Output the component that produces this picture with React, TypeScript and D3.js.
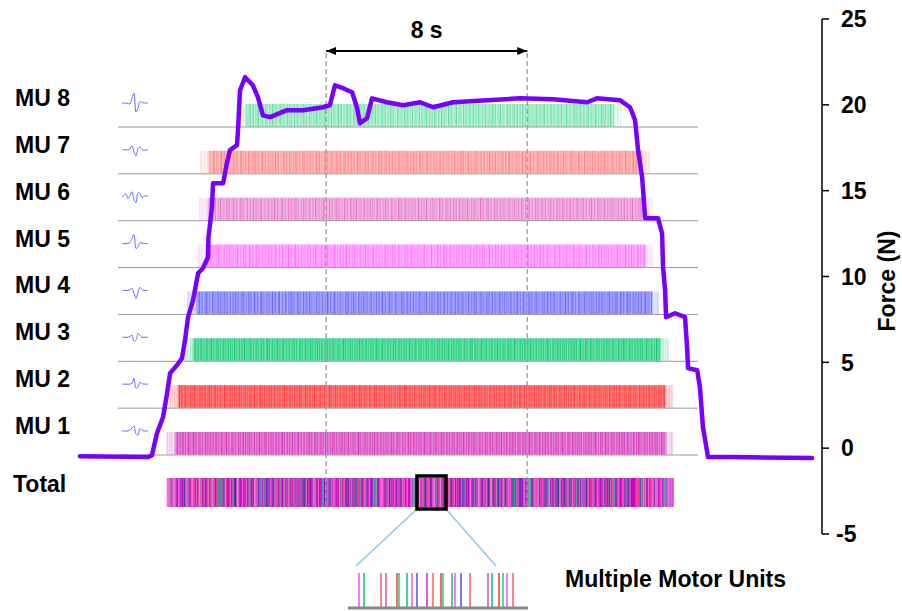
import * as d3 from 'd3'

// motor unit rows, top to bottom
const MU_LABELS = ['MU 8', 'MU 7', 'MU 6', 'MU 5', 'MU 4', 'MU 3', 'MU 2', 'MU 1']
const MU_COLORS = ['#1ccf78', '#ff5c5c', '#e04cbc', '#ff4cff', '#4c4cff', '#00c868', '#ff3434', '#d024b4']
const MU_ALPHA = [0.6, 0.7, 0.7, 0.75, 0.8, 0.9, 0.95, 0.85]
const MU_TINT = [0.22, 0.3, 0.3, 0.3, 0.35, 0.4, 0.45, 0.4]
// recruitment / derecruitment (s) and mean discharge rate (pps)
const MU_ONSET = [6.22, 4.79, 4.75, 4.71, 4.28, 4.16, 3.57, 3.45]
const MU_OFFSET = [21.47, 22.58, 22.66, 22.7, 22.98, 23.3, 23.49, 23.53]
const MU_RATE = [15, 16, 16, 17, 18, 20, 22, 20]
// relative inter-spike intervals and spike intensities (cycled)
const ISI_JITTER = [1.0, 0.82, 1.15, 0.94, 1.27, 0.76, 1.05, 0.9, 1.2, 0.85, 1.1, 0.97, 0.8, 1.22, 1.03, 0.88, 1.14, 0.92, 1.3, 0.79]
const SPIKE_ALPHA = [0.9, 0.45, 0.7, 0.35, 0.85, 0.55, 0.65, 0.4, 0.95, 0.5, 0.75, 0.4, 0.6]
// colours seen in the pooled (Total) train
const TOTAL_COLORS = ['#e020b8', '#ff60d8', '#9a20e0', '#ff3399', '#30b890', '#3c3c9c', '#d050d0', '#ff80e0', '#7a6a8a', '#c000c0']

// MUAP templates (normalised amplitude)
const MUAP = [
  [0, 0, 0, -0.05, -0.1, 0.5, 1.0, -0.9, -0.5, 0.15, 0.05, 0, 0, 0],
  [0, 0, 0, 0, 0.1, 0.4, -0.2, -0.6, 0.1, 0.3, 0.05, -0.05, 0, 0],
  [0, 0.1, 0.3, -0.2, 0.1, 0.5, -0.3, -0.6, 0.4, 0.3, -0.1, 0.05, 0.1, 0.05],
  [0, 0, 0, 0, 0.1, 0.5, 0.9, -0.5, -0.3, 0.1, 0.05, 0, 0, 0],
  [0, 0, 0, 0, 0.1, 0.2, -0.3, -0.8, -0.2, 0.3, 0.1, 0, 0, 0],
  [0, 0, 0, 0, 0.1, 0.2, -0.4, -0.3, 0.4, 0.2, 0, 0, 0, 0],
  [0, 0, 0, 0, 0, 0.1, 0.6, -0.4, -0.3, 0.2, 0.05, 0, 0, 0],
  [0, 0, 0, 0, 0.1, 0.3, 0.5, -0.3, -0.4, 0.25, 0.1, 0, 0, 0],
]

// force trace [time s, force N]
const FORCE: [number, number][] = [
  [0, -0.47], [2.69, -0.52], [2.85, -0.41], [3.05, 0.87], [3.29, 1.81], [3.45, 3.2], [3.57, 4.37],
  [3.84, 4.83], [4.04, 5.24], [4.16, 6.29], [4.28, 7.63], [4.48, 8.62], [4.68, 10.19], [4.87, 10.48],
  [5.07, 11.12], [5.09, 12.29], [5.23, 14.04], [5.27, 15.43], [5.55, 15.43], [5.67, 15.43], [5.82, 16.6],
  [5.94, 17.36], [6.22, 17.65], [6.26, 18.52], [6.34, 20.85], [6.54, 21.61], [6.85, 21.14], [7.05, 20.44],
  [7.25, 19.39], [7.53, 19.28], [8.2, 19.69], [8.84, 19.69], [9.63, 19.86], [9.9, 19.98], [10.1, 21.14],
  [10.42, 20.97], [10.78, 20.73], [10.97, 19.86], [11.09, 18.93], [11.37, 19.22], [11.57, 20.38],
  [12.16, 20.15], [12.8, 19.98], [13.47, 20.15], [13.99, 19.86], [14.78, 20.15], [16.13, 20.27],
  [17.43, 20.38], [18.74, 20.33], [20.09, 20.15], [20.48, 20.38], [21.39, 20.27], [21.79, 19.86],
  [21.99, 19.1], [22.11, 17.36], [22.27, 15.78], [22.39, 13.4], [22.9, 13.4], [23.06, 12.52],
  [23.1, 10.54], [23.18, 9.2], [23.22, 7.63], [23.57, 7.86], [23.97, 7.63], [24.05, 5.88], [24.09, 4.66],
  [24.45, 4.54], [24.56, 3.55], [24.68, 1.22], [24.88, -0.52], [25.87, -0.52], [29, -0.58],
]
const FORCE_TICKS = [-5, 0, 5, 10, 15, 20, 25]

// 8 s analysis window and zoomed window (s)
const WINDOW_T = [9.75, 17.72]
const ZOOM_T = [13.35, 14.5]

// zoomed discharges: position within window, MU index
const INSET_POS = [11, 16, 33, 38, 49, 51, 59, 64, 69, 79, 85, 93, 95, 104, 107, 113, 122, 140, 144, 151, 155, 159, 165]
const INSET_MU = [3, 5, 1, 2, 6, 0, 5, 3, 4, 7, 1, 6, 0, 5, 3, 4, 1, 2, 5, 6, 0, 3, 1]

const FONT = '"Liberation Sans", Arial, Helvetica, sans-serif'

function spikeTrain(i: number): number[] {
  const times: number[] = []
  let t = MU_ONSET[i]
  let k = i * 7
  while (t <= MU_OFFSET[i]) {
    times.push(t)
    t += ISI_JITTER[k % ISI_JITTER.length] / MU_RATE[i]
    k += 1
  }
  return times
}

export default function App() {
  const width = 902
  const height = 611

  const x = d3.scaleLinear().domain([0, 29]).range([80, 812])
  const y = d3.scaleLinear().domain([-5, 25]).range([534, 19])
  const row = d3.scalePoint<string>().domain(MU_LABELS).range([127, 455])
  const inset = d3.scaleLinear().domain([0, 180]).range([348, 528])
  const amp = d3.scaleLinear().domain([-1, 1]).range([10, -10])
  const wx = d3.scaleLinear().domain([0, 13]).range([122, 148])

  const bandH = 23
  const totalTop = 478
  const totalBot = 507
  const axisX = 822

  const trains = MU_LABELS.map((_, i) => spikeTrain(i))
  // pooled discharges in time order, thinned for the Total row
  const merged = trains
    .flatMap((ts, i) => ts.map((t, k) => ({ t, i, k })))
    .sort((a, b) => a.t - b.t)
    .filter((_, n) => n % 3 === 0)

  const forceLine = d3.line<[number, number]>()
    .x(d => x(d[0]))
    .y(d => y(d[1]))

  const muapLine = d3.line<number>()
    .x((_, j) => wx(j))
    .y(d => amp(d))
    .curve(d3.curveCatmullRom)

  const edgeFade = (i: number, t: number) =>
    (t - MU_ONSET[i] < 0.35 || MU_OFFSET[i] - t < 0.3) ? 0.4 : 1

  const zx0 = x(ZOOM_T[0])
  const zx1 = x(ZOOM_T[1])

  return (
    <svg width={width} height={height} style={{ position: 'absolute', left: 0, top: 0, fontFamily: FONT }}>
      <rect width={width} height={height} fill="#fff" />

      {/* row baselines */}
      {MU_LABELS.map(m => (
        <line key={m} x1={118} x2={698} y1={row(m)} y2={row(m)} stroke="#9a9a9a" strokeWidth={1} />
      ))}

      {/* discharge trains */}
      {MU_LABELS.map((m, i) => {
        const base = row(m) ?? 0
        return (
          <g key={m} stroke={MU_COLORS[i]} strokeWidth={1.2}>
            <rect x={x(MU_ONSET[i] + 0.3)} y={base - bandH} width={x(MU_OFFSET[i] - 0.3) - x(MU_ONSET[i] + 0.3)}
              height={bandH - 0.5} fill={MU_COLORS[i]} fillOpacity={MU_TINT[i]} stroke="none" />
            {trains[i].map((t, k) => (
              <line key={k} x1={x(t)} x2={x(t)} y1={base - bandH} y2={base - 0.5}
                strokeOpacity={SPIKE_ALPHA[k % SPIKE_ALPHA.length] * MU_ALPHA[i] * edgeFade(i, t)} />
            ))}
          </g>
        )
      })}

      {/* total */}
      <rect x={x(MU_ONSET[7])} y={totalTop} width={x(MU_OFFSET[7]) - x(MU_ONSET[7])} height={totalBot - totalTop}
        fill="#f070d8" />
      {merged.map((s, n) => (
        <line key={n} x1={x(s.t)} x2={x(s.t)} y1={totalTop} y2={totalBot}
          stroke={TOTAL_COLORS[(s.k + 3 * s.i) % TOTAL_COLORS.length]}
          strokeWidth={1.6} strokeOpacity={edgeFade(s.i, s.t) < 1 ? 0.45 : 0.9} />
      ))}

      {/* window markers */}
      {WINDOW_T.map(t => (
        <line key={t} x1={x(t)} x2={x(t)} y1={53} y2={totalBot} stroke="#9c9c9c"
          strokeWidth={1.3} strokeDasharray="5,3" />
      ))}

      {/* MUAP icons */}
      {MU_LABELS.map((m, i) => (
        <path key={m} d={muapLine(MUAP[i]) ?? ''} transform={`translate(0,${(row(m) ?? 0) - 24})`}
          fill="none" stroke="#6b6bff" strokeWidth={1} />
      ))}

      {/* force */}
      <path d={forceLine(FORCE) ?? ''} fill="none" stroke="#7800ff" strokeWidth={4.5}
        strokeLinejoin="round" strokeLinecap="round" />

      {/* 8 s arrow */}
      <defs>
        <marker id="ah" viewBox="0 0 10 8" refX={10} refY={4} markerWidth={10} markerHeight={8}
          markerUnits="userSpaceOnUse" orient="auto-start-reverse">
          <path d="M0,0 L10,4 L0,8 Z" fill="#000" />
        </marker>
      </defs>
      <line x1={x(WINDOW_T[0])} x2={x(WINDOW_T[1])} y1={51} y2={51} stroke="#000" strokeWidth={2}
        markerStart="url(#ah)" markerEnd="url(#ah)" />
      <text x={(x(WINDOW_T[0]) + x(WINDOW_T[1])) / 2} y={38} textAnchor="middle"
        fontSize={23} fontWeight="bold">8 s</text>

      {/* labels */}
      {MU_LABELS.map(m => (
        <text key={m} x={15} y={(row(m) ?? 0) - 21} fontSize={23} fontWeight="bold">{m}</text>
      ))}
      <text x={13} y={492} fontSize={23} fontWeight="bold">Total</text>

      {/* force axis */}
      <line x1={axisX} x2={axisX} y1={y(25)} y2={y(-5)} stroke="#000" strokeWidth={1.5} />
      {FORCE_TICKS.map(v => (
        <g key={v}>
          <line x1={axisX} x2={axisX + 7} y1={y(v)} y2={y(v)} stroke="#000" strokeWidth={1.5} />
          <text x={v < 0 ? 836 : 841} y={y(v)} dy="0.36em" fontSize={23} fontWeight="bold">{v}</text>
        </g>
      ))}
      <text transform="translate(895,281) rotate(-90)" textAnchor="middle" fontSize={23}
        fontWeight="bold">Force (N)</text>

      {/* zoom box and inset */}
      <line x1={zx0} y1={509} x2={inset(8)} y2={566} stroke="#8cc8ee" strokeWidth={1.5} />
      <line x1={zx1} y1={509} x2={inset(148)} y2={566} stroke="#8cc8ee" strokeWidth={1.5} />
      <rect x={zx0} y={476} width={zx1 - zx0} height={33} fill="none" stroke="#000" strokeWidth={3.5} />
      {INSET_POS.map((p, k) => (
        <line key={k} x1={inset(p)} x2={inset(p)} y1={573} y2={607}
          stroke={MU_COLORS[INSET_MU[k]]} strokeOpacity={0.75} strokeWidth={2} />
      ))}
      <line x1={inset(0)} x2={inset(180)} y1={608} y2={608} stroke="#888" strokeWidth={3} />
      <text x={565} y={587} fontSize={23} fontWeight="bold">Multiple Motor Units</text>
    </svg>
  )
}
